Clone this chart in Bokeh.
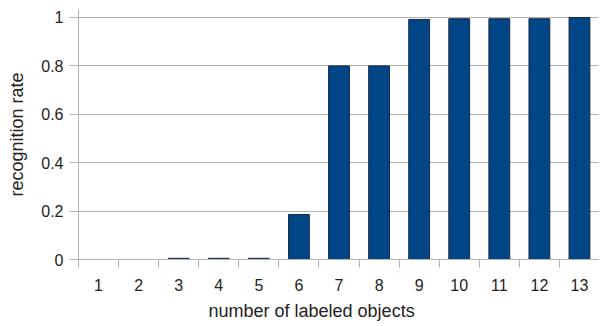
from bokeh.plotting import figure
from bokeh.models import Range1d, FixedTicker, Title, ColumnDataSource
from bokeh.embed import file_html
from bokeh.resources import INLINE

categories = [1, 2, 3, 4, 5, 6, 7, 8, 9, 10, 11, 12, 13]
recognition_rate = [0.0, 0.0, 0.005, 0.005, 0.005, 0.186, 0.80, 0.80, 0.992, 0.995, 0.995, 0.995, 1.0]
y_ticks = [0, 0.2, 0.4, 0.6, 0.8, 1.0]
x_title = "number of labeled objects"
y_title = "recognition rate"

FONT = "Liberation Sans"
GRID = "#b3b3b3"
TXT = "#222222"

p = figure(width=599, height=325, output_backend="svg", toolbar_location=None,
           x_range=Range1d(0.5, 13.5), y_range=Range1d(0, 1.033),
           min_border_left=78, min_border_right=0, min_border_top=9, min_border_bottom=66)
p.outline_line_color = None
p.background_fill_color = "white"

src = ColumnDataSource(dict(x=categories, top=recognition_rate))
p.vbar(x="x", top="top", width=0.52, bottom=0, source=src,
       fill_color="#004586", line_color="#1c2a44", line_width=1)

# x axis
xa = p.xaxis[0]
xa.ticker = FixedTicker(ticks=categories, minor_ticks=[c - 0.5 for c in categories] + [categories[-1] + 0.5])
xa.major_tick_line_color = None
xa.major_tick_out = 0
xa.minor_tick_out = 8
xa.minor_tick_in = 0
xa.minor_tick_line_color = GRID
xa.axis_line_color = GRID
xa.major_label_text_font = FONT
xa.major_label_text_font_size = "16px"
xa.major_label_text_color = TXT
xa.major_label_standoff = 11

# y axis
ya = p.yaxis[0]
ya.ticker = FixedTicker(ticks=y_ticks)
ya.major_label_overrides = {0: "0", 1.0: "1"}
ya.minor_tick_line_color = None
ya.major_tick_out = 9
ya.major_tick_in = 0
ya.major_tick_line_color = GRID
ya.axis_line_color = GRID
ya.major_label_text_font = FONT
ya.major_label_text_font_size = "16px"
ya.major_label_text_color = TXT
ya.major_label_standoff = 6
ya.axis_label = y_title
ya.axis_label_text_font = FONT
ya.axis_label_text_font_size = "18px"
ya.axis_label_text_font_style = "normal"
ya.axis_label_text_color = TXT
ya.axis_label_standoff = 11

p.xgrid.grid_line_color = None
p.ygrid.grid_line_color = GRID
p.ygrid.ticker = FixedTicker(ticks=y_ticks)

xt = Title(text=x_title, align="left", offset=130, text_font=FONT, text_font_size="18px",
           text_font_style="normal", text_color=TXT, standoff=10, vertical_align="bottom")
p.add_layout(xt, "below")

open("out.html", "w").write(file_html(p, INLINE))
